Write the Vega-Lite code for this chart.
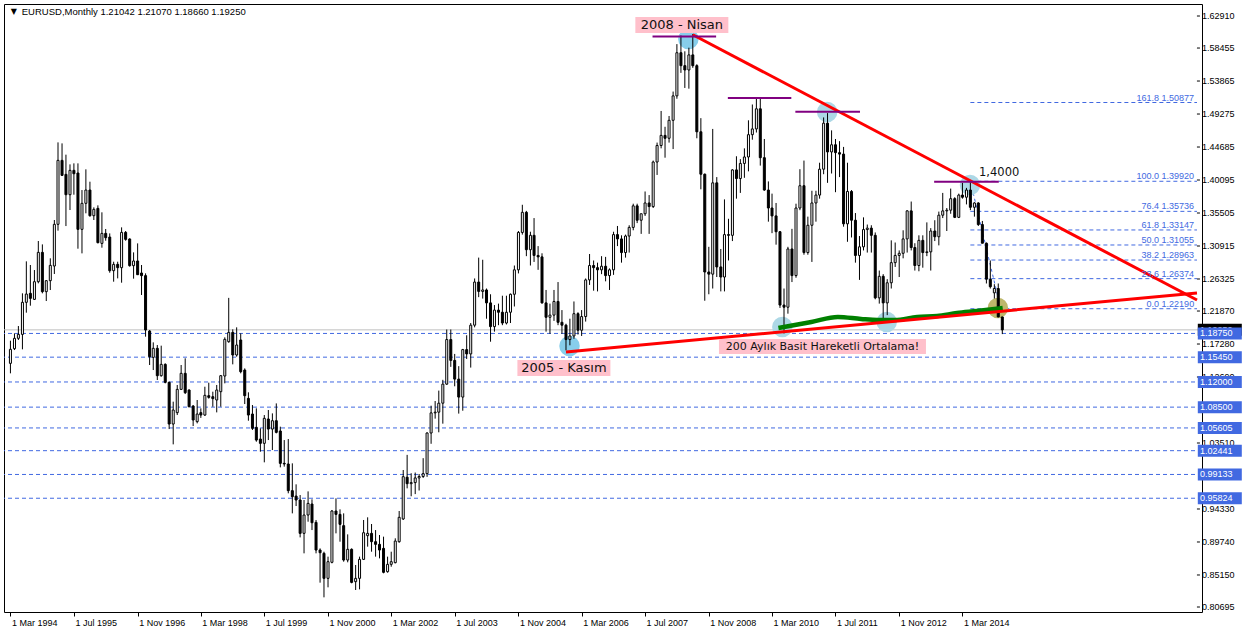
{
"$schema": "https://vega.github.io/schema/vega-lite/v6.json",
"width": 1198, "height": 608,
"autosize": {"type": "none"},
"padding": {"left": 4, "top": 4, "right": 45, "bottom": 20},
"background": "#FFFFFF",
"config": {"view": {"stroke": "#000000", "strokeWidth": 1}, "font": "Liberation Sans"},
"datasets": {
"hlines": [{"p":1.1875},{"p":1.1545},{"p":1.12},{"p":1.085},{"p":1.05605},{"p":1.02441},{"p":0.99133},{"p":0.95824}],
"ylabels": [{"p":1.6291},{"p":1.58455},{"p":1.53865},{"p":1.49275},{"p":1.44685},{"p":1.40095},{"p":1.35505},{"p":1.30915},{"p":1.26325},{"p":1.2187},{"p":1.1728},{"p":1.1269},{"p":1.0351},{"p":0.9433},{"p":0.8974},{"p":0.8515},{"p":0.80695}],
"bid": [{"p":1.1925}],
"fib": [{"p":1.50877,"t":"161.8 1.50877"},{"p":1.3992,"t":"100.0 1.39920"},{"p":1.35736,"t":"76.4 1.35736"},{"p":1.33147,"t":"61.8 1.33147"},{"p":1.31055,"t":"50.0 1.31055"},{"p":1.28963,"t":"38.2 1.28963"},{"p":1.26374,"t":"23.6 1.26374"},{"p":1.2219,"t":"0.0 1.22190"}],
"fibdiag": [{"d":"2014-05-01","p":1.3992},{"d":"2014-12-20","p":1.2219}],
"circles": [{"d":"2008-05-28","p":1.5971,"k":"sky"},{"d":"2005-11-28","p":1.17,"k":"sky"},{"d":"2011-04-28","p":1.4956,"k":"light"},{"d":"2010-05-19","p":1.1965,"k":"light"},{"d":"2012-07-28","p":1.2034,"k":"light"},{"d":"2014-04-28","p":1.394,"k":"light"},{"d":"2014-11-28","p":1.2229,"k":"khaki"}],
"sma": [{"d":"2010-04-19","p":1.1951},{"d":"2010-12-28","p":1.2034},{"d":"2011-07-19","p":1.2104},{"d":"2012-01-13","p":1.2076},{"d":"2012-05-19","p":1.2062},{"d":"2012-09-28","p":1.2062},{"d":"2013-03-19","p":1.2104},{"d":"2013-08-19","p":1.2118},{"d":"2014-01-19","p":1.2159},{"d":"2014-06-19","p":1.2187},{"d":"2015-01-04","p":1.2229}],
"trend": [{"g":"a","d":"2008-07-01","p":1.603},{"g":"a","d":"2019-02-03","p":1.234},{"g":"b","d":"2005-11-01","p":1.1617},{"g":"b","d":"2019-02-03","p":1.2439}],
"purple": [{"d1":"2007-08-27","d2":"2008-12-27","p":1.6005},{"d1":"2009-03-27","d2":"2010-07-27","p":1.515},{"d1":"2010-08-27","d2":"2012-01-05","p":1.496},{"d1":"2013-07-27","d2":"2014-12-05","p":1.3986}],
"tags": [{"d":"2008-04-08","p":1.6166,"t":"2008 - Nisan"},{"d":"2005-10-16","p":1.1394,"t":"2005 - Kasım"}],
"tagLong": [{"d":"2011-03-23","p":1.1693,"t":"200 Aylık Basit Hareketli Ortalama!"}],
"lvl": [{"d":"2014-12-08","p":1.4107,"t":"1,4000"}],
"head": [{"d":"1994-05-27","p":1.6347,"t":"EURUSD,Monthly  1.21042 1.21070 1.18660 1.19250"}],
"tri": [{"d":"1994-03-27","p":1.6347,"t":"▼"}],
"bars": [
{"d":"1994-03-01","o":1.1459,"h":1.1774,"l":1.132,"c":1.1654},
{"d":"1994-04-01","o":1.1663,"h":1.1876,"l":1.1644,"c":1.1807},
{"d":"1994-05-01","o":1.1807,"h":1.1978,"l":1.1784,"c":1.1862},
{"d":"1994-06-01","o":1.1862,"h":1.2433,"l":1.1654,"c":1.2308},
{"d":"1994-07-01","o":1.2308,"h":1.2878,"l":1.2164,"c":1.2423},
{"d":"1994-08-01","o":1.2433,"h":1.2827,"l":1.2261,"c":1.2363},
{"d":"1994-09-01","o":1.2349,"h":1.2757,"l":1.234,"c":1.2595},
{"d":"1994-10-01","o":1.2595,"h":1.3161,"l":1.2572,"c":1.3003},
{"d":"1994-11-01","o":1.3003,"h":1.3114,"l":1.2433,"c":1.2456},
{"d":"1994-12-01","o":1.2456,"h":1.2618,"l":1.2326,"c":1.2609},
{"d":"1995-01-01","o":1.2609,"h":1.292,"l":1.2479,"c":1.2822},
{"d":"1995-02-01","o":1.2813,"h":1.3453,"l":1.2702,"c":1.3393},
{"d":"1995-03-01","o":1.3393,"h":1.4533,"l":1.3305,"c":1.4283},
{"d":"1995-04-01","o":1.4283,"h":1.4519,"l":1.4065,"c":1.4074},
{"d":"1995-05-01","o":1.4088,"h":1.4362,"l":1.3369,"c":1.3805},
{"d":"1995-06-01","o":1.3805,"h":1.4227,"l":1.3592,"c":1.4144},
{"d":"1995-07-01","o":1.4144,"h":1.4241,"l":1.3805,"c":1.4097},
{"d":"1995-08-01","o":1.4107,"h":1.4241,"l":1.3054,"c":1.3323},
{"d":"1995-09-01","o":1.3323,"h":1.387,"l":1.2989,"c":1.3685},
{"d":"1995-10-01","o":1.3685,"h":1.4158,"l":1.3546,"c":1.387},
{"d":"1995-11-01","o":1.387,"h":1.3986,"l":1.3499,"c":1.3513},
{"d":"1995-12-01","o":1.3513,"h":1.3629,"l":1.3453,"c":1.3601},
{"d":"1996-01-01","o":1.3615,"h":1.3657,"l":1.3128,"c":1.3138},
{"d":"1996-02-01","o":1.3128,"h":1.356,"l":1.3068,"c":1.3267},
{"d":"1996-03-01","o":1.3267,"h":1.3328,"l":1.3165,"c":1.3207},
{"d":"1996-04-01","o":1.3216,"h":1.3267,"l":1.272,"c":1.2748},
{"d":"1996-05-01","o":1.2748,"h":1.2873,"l":1.2595,"c":1.2836},
{"d":"1996-06-01","o":1.2836,"h":1.2873,"l":1.2641,"c":1.279},
{"d":"1996-07-01","o":1.279,"h":1.3351,"l":1.2581,"c":1.3281},
{"d":"1996-08-01","o":1.3281,"h":1.33,"l":1.3165,"c":1.3184},
{"d":"1996-09-01","o":1.3189,"h":1.3198,"l":1.2804,"c":1.2818},
{"d":"1996-10-01","o":1.2818,"h":1.3003,"l":1.2637,"c":1.2883},
{"d":"1996-11-01","o":1.2883,"h":1.3128,"l":1.2688,"c":1.2692},
{"d":"1996-12-01","o":1.2716,"h":1.2827,"l":1.241,"c":1.2679},
{"d":"1997-01-01","o":1.2679,"h":1.2711,"l":1.183,"c":1.1923},
{"d":"1997-02-01","o":1.1909,"h":1.1923,"l":1.1436,"c":1.1552},
{"d":"1997-03-01","o":1.1542,"h":1.1751,"l":1.1366,"c":1.1668},
{"d":"1997-04-01","o":1.1668,"h":1.1714,"l":1.1227,"c":1.1287},
{"d":"1997-05-01","o":1.1287,"h":1.1705,"l":1.1274,"c":1.1445},
{"d":"1997-06-01","o":1.1445,"h":1.1459,"l":1.1181,"c":1.1195},
{"d":"1997-07-01","o":1.1195,"h":1.1204,"l":1.0545,"c":1.0615},
{"d":"1997-08-01","o":1.0615,"h":1.0926,"l":1.0332,"c":1.081},
{"d":"1997-09-01","o":1.0773,"h":1.1158,"l":1.074,"c":1.1097},
{"d":"1997-10-01","o":1.1097,"h":1.1436,"l":1.1088,"c":1.132},
{"d":"1997-11-01","o":1.132,"h":1.1529,"l":1.1032,"c":1.1051},
{"d":"1997-12-01","o":1.1088,"h":1.1097,"l":1.0847,"c":1.0856},
{"d":"1998-01-01","o":1.0865,"h":1.0879,"l":1.0587,"c":1.0671},
{"d":"1998-02-01","o":1.0648,"h":1.0949,"l":1.0624,"c":1.0754},
{"d":"1998-03-01","o":1.0773,"h":1.0833,"l":1.07,"c":1.074},
{"d":"1998-04-01","o":1.074,"h":1.1134,"l":1.0727,"c":1.1014},
{"d":"1998-05-01","o":1.1009,"h":1.119,"l":1.0968,"c":1.0986},
{"d":"1998-06-01","o":1.0995,"h":1.1065,"l":1.0856,"c":1.0968},
{"d":"1998-07-01","o":1.0949,"h":1.1158,"l":1.0777,"c":1.1088},
{"d":"1998-08-01","o":1.1065,"h":1.1297,"l":1.0856,"c":1.1287},
{"d":"1998-09-01","o":1.1283,"h":1.1821,"l":1.1181,"c":1.1793},
{"d":"1998-10-01","o":1.176,"h":1.237,"l":1.1746,"c":1.189},
{"d":"1998-11-01","o":1.189,"h":1.1932,"l":1.1445,"c":1.1575},
{"d":"1998-12-01","o":1.1575,"h":1.196,"l":1.1552,"c":1.1714},
{"d":"1999-01-01","o":1.1784,"h":1.1876,"l":1.132,"c":1.1343},
{"d":"1999-02-01","o":1.1366,"h":1.1389,"l":1.0893,"c":1.1009},
{"d":"1999-03-01","o":1.0972,"h":1.1056,"l":1.0661,"c":1.074},
{"d":"1999-04-01","o":1.0754,"h":1.0879,"l":1.0532,"c":1.0555},
{"d":"1999-05-01","o":1.0569,"h":1.0833,"l":1.0369,"c":1.0392},
{"d":"1999-06-01","o":1.0406,"h":1.0555,"l":1.023,"c":1.0346},
{"d":"1999-07-01","o":1.0346,"h":1.074,"l":1.0082,"c":1.0694},
{"d":"1999-08-01","o":1.0685,"h":1.081,"l":1.0392,"c":1.0545},
{"d":"1999-09-01","o":1.0545,"h":1.0763,"l":1.0253,"c":1.0661},
{"d":"1999-10-01","o":1.0661,"h":1.0902,"l":1.0485,"c":1.0499},
{"d":"1999-11-01","o":1.0518,"h":1.0578,"l":1.0012,"c":1.0068},
{"d":"1999-12-01","o":1.0068,"h":1.0392,"l":1.0022,"c":1.0059},
{"d":"2000-01-01","o":1.0059,"h":1.0406,"l":0.9651,"c":0.9688},
{"d":"2000-02-01","o":0.9688,"h":1.0068,"l":0.9372,"c":0.9604},
{"d":"2000-03-01","o":0.9613,"h":0.9776,"l":0.9474,"c":0.9558},
{"d":"2000-04-01","o":0.9558,"h":0.9627,"l":0.9038,"c":0.9094},
{"d":"2000-05-01","o":0.9094,"h":0.9558,"l":0.8816,"c":0.9349},
{"d":"2000-06-01","o":0.9349,"h":0.9678,"l":0.9256,"c":0.9511},
{"d":"2000-07-01","o":0.9502,"h":0.9567,"l":0.914,"c":0.9242},
{"d":"2000-08-01","o":0.9247,"h":0.928,"l":0.8816,"c":0.8862},
{"d":"2000-09-01","o":0.8862,"h":0.8885,"l":0.8408,"c":0.8825},
{"d":"2000-10-01","o":0.8816,"h":0.8839,"l":0.8204,"c":0.8468},
{"d":"2000-11-01","o":0.8468,"h":0.877,"l":0.8343,"c":0.87},
{"d":"2000-12-01","o":0.8691,"h":0.9419,"l":0.8677,"c":0.9405},
{"d":"2001-01-01","o":0.9405,"h":0.9581,"l":0.9094,"c":0.9358},
{"d":"2001-02-01","o":0.9358,"h":0.9428,"l":0.8978,"c":0.9219},
{"d":"2001-03-01","o":0.9201,"h":0.9372,"l":0.87,"c":0.8723},
{"d":"2001-04-01","o":0.8723,"h":0.908,"l":0.8691,"c":0.8872},
{"d":"2001-05-01","o":0.8872,"h":0.8885,"l":0.8399,"c":0.8412},
{"d":"2001-06-01","o":0.8422,"h":0.8654,"l":0.8306,"c":0.8468},
{"d":"2001-07-01","o":0.8468,"h":0.877,"l":0.8315,"c":0.8732},
{"d":"2001-08-01","o":0.8732,"h":0.928,"l":0.8723,"c":0.9103},
{"d":"2001-09-01","o":0.9062,"h":0.9317,"l":0.8909,"c":0.9094},
{"d":"2001-10-01","o":0.9094,"h":0.9224,"l":0.8839,"c":0.8978},
{"d":"2001-11-01","o":0.8978,"h":0.914,"l":0.877,"c":0.8941},
{"d":"2001-12-01","o":0.8941,"h":0.9071,"l":0.8746,"c":0.8862},
{"d":"2002-01-01","o":0.8885,"h":0.9048,"l":0.8538,"c":0.8552},
{"d":"2002-02-01","o":0.8561,"h":0.877,"l":0.8547,"c":0.8663},
{"d":"2002-03-01","o":0.8663,"h":0.8839,"l":0.863,"c":0.87},
{"d":"2002-04-01","o":0.8686,"h":0.9025,"l":0.8677,"c":0.8987},
{"d":"2002-05-01","o":0.8978,"h":0.9405,"l":0.8964,"c":0.9317},
{"d":"2002-06-01","o":0.9294,"h":0.9975,"l":0.928,"c":0.9882},
{"d":"2002-07-01","o":0.9875,"h":1.0186,"l":0.972,"c":0.9785},
{"d":"2002-08-01","o":0.9785,"h":0.993,"l":0.961,"c":0.98},
{"d":"2002-09-01","o":0.98,"h":0.994,"l":0.964,"c":0.9865},
{"d":"2002-10-01","o":0.9865,"h":0.992,"l":0.969,"c":0.9885},
{"d":"2002-11-01","o":0.9885,"h":1.014,"l":0.9865,"c":0.9925},
{"d":"2002-12-01","o":0.9925,"h":1.05,"l":0.988,"c":1.049},
{"d":"2003-01-01","o":1.049,"h":1.087,"l":1.034,"c":1.077},
{"d":"2003-02-01","o":1.077,"h":1.0935,"l":1.069,"c":1.078},
{"d":"2003-03-01","o":1.078,"h":1.108,"l":1.05,"c":1.0905},
{"d":"2003-04-01","o":1.0905,"h":1.123,"l":1.062,"c":1.117},
{"d":"2003-05-01","o":1.117,"h":1.193,"l":1.116,"c":1.179},
{"d":"2003-06-01","o":1.179,"h":1.193,"l":1.141,"c":1.15},
{"d":"2003-07-01","o":1.15,"h":1.159,"l":1.114,"c":1.124},
{"d":"2003-08-01","o":1.124,"h":1.142,"l":1.076,"c":1.099},
{"d":"2003-09-01","o":1.099,"h":1.166,"l":1.08,"c":1.165},
{"d":"2003-10-01","o":1.165,"h":1.185,"l":1.152,"c":1.159},
{"d":"2003-11-01","o":1.159,"h":1.202,"l":1.14,"c":1.199},
{"d":"2003-12-01","o":1.199,"h":1.264,"l":1.196,"c":1.259},
{"d":"2004-01-01","o":1.259,"h":1.293,"l":1.238,"c":1.246},
{"d":"2004-02-01","o":1.246,"h":1.29,"l":1.236,"c":1.248},
{"d":"2004-03-01","o":1.248,"h":1.25,"l":1.208,"c":1.23},
{"d":"2004-04-01","o":1.23,"h":1.242,"l":1.176,"c":1.197},
{"d":"2004-05-01","o":1.197,"h":1.227,"l":1.19,"c":1.22},
{"d":"2004-06-01","o":1.22,"h":1.229,"l":1.199,"c":1.217},
{"d":"2004-07-01","o":1.217,"h":1.24,"l":1.199,"c":1.202},
{"d":"2004-08-01","o":1.202,"h":1.24,"l":1.2,"c":1.217},
{"d":"2004-09-01","o":1.217,"h":1.243,"l":1.202,"c":1.242},
{"d":"2004-10-01","o":1.242,"h":1.282,"l":1.225,"c":1.276},
{"d":"2004-11-01","o":1.276,"h":1.33,"l":1.271,"c":1.328},
{"d":"2004-12-01","o":1.328,"h":1.3665,"l":1.325,"c":1.356},
{"d":"2005-01-01","o":1.356,"h":1.358,"l":1.295,"c":1.304},
{"d":"2005-02-01","o":1.304,"h":1.329,"l":1.282,"c":1.324},
{"d":"2005-03-01","o":1.324,"h":1.348,"l":1.287,"c":1.296},
{"d":"2005-04-01","o":1.296,"h":1.309,"l":1.276,"c":1.294},
{"d":"2005-05-01","o":1.294,"h":1.299,"l":1.229,"c":1.23},
{"d":"2005-06-01","o":1.23,"h":1.248,"l":1.19,"c":1.21},
{"d":"2005-07-01","o":1.21,"h":1.229,"l":1.187,"c":1.213},
{"d":"2005-08-01","o":1.213,"h":1.248,"l":1.205,"c":1.232},
{"d":"2005-09-01","o":1.232,"h":1.259,"l":1.199,"c":1.203},
{"d":"2005-10-01","o":1.203,"h":1.22,"l":1.187,"c":1.199},
{"d":"2005-11-01","o":1.199,"h":1.201,"l":1.164,"c":1.179},
{"d":"2005-12-01","o":1.179,"h":1.208,"l":1.171,"c":1.184},
{"d":"2006-01-01","o":1.184,"h":1.232,"l":1.18,"c":1.215},
{"d":"2006-02-01","o":1.215,"h":1.217,"l":1.186,"c":1.192},
{"d":"2006-03-01","o":1.192,"h":1.22,"l":1.184,"c":1.211},
{"d":"2006-04-01","o":1.211,"h":1.264,"l":1.204,"c":1.262},
{"d":"2006-05-01","o":1.262,"h":1.298,"l":1.255,"c":1.282},
{"d":"2006-06-01","o":1.282,"h":1.289,"l":1.247,"c":1.279},
{"d":"2006-07-01","o":1.279,"h":1.286,"l":1.246,"c":1.276},
{"d":"2006-08-01","o":1.276,"h":1.295,"l":1.27,"c":1.281},
{"d":"2006-09-01","o":1.281,"h":1.294,"l":1.26,"c":1.268},
{"d":"2006-10-01","o":1.268,"h":1.278,"l":1.248,"c":1.276},
{"d":"2006-11-01","o":1.276,"h":1.329,"l":1.269,"c":1.325},
{"d":"2006-12-01","o":1.325,"h":1.337,"l":1.309,"c":1.319},
{"d":"2007-01-01","o":1.319,"h":1.324,"l":1.286,"c":1.3},
{"d":"2007-02-01","o":1.3,"h":1.325,"l":1.293,"c":1.323},
{"d":"2007-03-01","o":1.323,"h":1.338,"l":1.3,"c":1.335},
{"d":"2007-04-01","o":1.335,"h":1.368,"l":1.331,"c":1.365},
{"d":"2007-05-01","o":1.365,"h":1.368,"l":1.341,"c":1.345},
{"d":"2007-06-01","o":1.345,"h":1.354,"l":1.326,"c":1.354},
{"d":"2007-07-01","o":1.354,"h":1.385,"l":1.351,"c":1.369},
{"d":"2007-08-01","o":1.369,"h":1.38,"l":1.326,"c":1.364},
{"d":"2007-09-01","o":1.364,"h":1.428,"l":1.362,"c":1.426},
{"d":"2007-10-01","o":1.426,"h":1.453,"l":1.408,"c":1.449},
{"d":"2007-11-01","o":1.449,"h":1.497,"l":1.445,"c":1.463},
{"d":"2007-12-01","o":1.463,"h":1.475,"l":1.432,"c":1.459},
{"d":"2008-01-01","o":1.459,"h":1.49,"l":1.453,"c":1.484},
{"d":"2008-02-01","o":1.484,"h":1.524,"l":1.444,"c":1.518},
{"d":"2008-03-01","o":1.518,"h":1.59,"l":1.514,"c":1.578},
{"d":"2008-04-01","o":1.578,"h":1.602,"l":1.55,"c":1.56},
{"d":"2008-05-01","o":1.56,"h":1.58,"l":1.529,"c":1.554},
{"d":"2008-06-01","o":1.554,"h":1.585,"l":1.528,"c":1.575},
{"d":"2008-07-01","o":1.575,"h":1.604,"l":1.557,"c":1.56},
{"d":"2008-08-01","o":1.56,"h":1.562,"l":1.459,"c":1.468},
{"d":"2008-09-01","o":1.468,"h":1.487,"l":1.388,"c":1.409},
{"d":"2008-10-01","o":1.409,"h":1.41,"l":1.233,"c":1.273},
{"d":"2008-11-01","o":1.273,"h":1.308,"l":1.242,"c":1.27},
{"d":"2008-12-01","o":1.27,"h":1.472,"l":1.25,"c":1.397},
{"d":"2009-01-01","o":1.397,"h":1.405,"l":1.266,"c":1.28},
{"d":"2009-02-01","o":1.28,"h":1.305,"l":1.246,"c":1.266},
{"d":"2009-03-01","o":1.266,"h":1.374,"l":1.246,"c":1.325},
{"d":"2009-04-01","o":1.325,"h":1.347,"l":1.289,"c":1.324},
{"d":"2009-05-01","o":1.324,"h":1.416,"l":1.316,"c":1.415},
{"d":"2009-06-01","o":1.415,"h":1.434,"l":1.375,"c":1.403},
{"d":"2009-07-01","o":1.403,"h":1.43,"l":1.383,"c":1.424},
{"d":"2009-08-01","o":1.424,"h":1.445,"l":1.404,"c":1.433},
{"d":"2009-09-01","o":1.433,"h":1.484,"l":1.413,"c":1.464},
{"d":"2009-10-01","o":1.464,"h":1.506,"l":1.457,"c":1.472},
{"d":"2009-11-01","o":1.472,"h":1.514,"l":1.467,"c":1.5},
{"d":"2009-12-01","o":1.5,"h":1.515,"l":1.421,"c":1.432},
{"d":"2010-01-01","o":1.432,"h":1.458,"l":1.386,"c":1.387},
{"d":"2010-02-01","o":1.387,"h":1.399,"l":1.343,"c":1.362},
{"d":"2010-03-01","o":1.362,"h":1.382,"l":1.327,"c":1.351},
{"d":"2010-04-01","o":1.351,"h":1.369,"l":1.311,"c":1.329},
{"d":"2010-05-01","o":1.329,"h":1.33,"l":1.223,"c":1.227},
{"d":"2010-06-01","o":1.227,"h":1.25,"l":1.1875,"c":1.224},
{"d":"2010-07-01","o":1.224,"h":1.308,"l":1.215,"c":1.305},
{"d":"2010-08-01","o":1.305,"h":1.333,"l":1.259,"c":1.268},
{"d":"2010-09-01","o":1.268,"h":1.368,"l":1.265,"c":1.362},
{"d":"2010-10-01","o":1.362,"h":1.416,"l":1.359,"c":1.393},
{"d":"2010-11-01","o":1.393,"h":1.428,"l":1.297,"c":1.3},
{"d":"2010-12-01","o":1.3,"h":1.35,"l":1.297,"c":1.338},
{"d":"2011-01-01","o":1.338,"h":1.386,"l":1.287,"c":1.369},
{"d":"2011-02-01","o":1.369,"h":1.386,"l":1.343,"c":1.38},
{"d":"2011-03-01","o":1.38,"h":1.425,"l":1.375,"c":1.416},
{"d":"2011-04-01","o":1.416,"h":1.488,"l":1.409,"c":1.48},
{"d":"2011-05-01","o":1.48,"h":1.494,"l":1.397,"c":1.44},
{"d":"2011-06-01","o":1.44,"h":1.47,"l":1.41,"c":1.45},
{"d":"2011-07-01","o":1.45,"h":1.458,"l":1.384,"c":1.439},
{"d":"2011-08-01","o":1.439,"h":1.455,"l":1.405,"c":1.437},
{"d":"2011-09-01","o":1.437,"h":1.447,"l":1.336,"c":1.34},
{"d":"2011-10-01","o":1.34,"h":1.425,"l":1.315,"c":1.385},
{"d":"2011-11-01","o":1.385,"h":1.387,"l":1.321,"c":1.345},
{"d":"2011-12-01","o":1.345,"h":1.355,"l":1.286,"c":1.296},
{"d":"2012-01-01","o":1.296,"h":1.323,"l":1.262,"c":1.308},
{"d":"2012-02-01","o":1.308,"h":1.349,"l":1.303,"c":1.332},
{"d":"2012-03-01","o":1.332,"h":1.339,"l":1.3,"c":1.334},
{"d":"2012-04-01","o":1.334,"h":1.338,"l":1.3,"c":1.324},
{"d":"2012-05-01","o":1.324,"h":1.328,"l":1.235,"c":1.237},
{"d":"2012-06-01","o":1.237,"h":1.275,"l":1.229,"c":1.267},
{"d":"2012-07-01","o":1.267,"h":1.27,"l":1.204,"c":1.23},
{"d":"2012-08-01","o":1.23,"h":1.263,"l":1.213,"c":1.258},
{"d":"2012-09-01","o":1.258,"h":1.317,"l":1.25,"c":1.286},
{"d":"2012-10-01","o":1.286,"h":1.314,"l":1.28,"c":1.296},
{"d":"2012-11-01","o":1.296,"h":1.303,"l":1.266,"c":1.299},
{"d":"2012-12-01","o":1.299,"h":1.331,"l":1.292,"c":1.319},
{"d":"2013-01-01","o":1.319,"h":1.359,"l":1.3,"c":1.358},
{"d":"2013-02-01","o":1.358,"h":1.371,"l":1.303,"c":1.307},
{"d":"2013-03-01","o":1.307,"h":1.313,"l":1.275,"c":1.282},
{"d":"2013-04-01","o":1.282,"h":1.324,"l":1.274,"c":1.317},
{"d":"2013-05-01","o":1.317,"h":1.324,"l":1.279,"c":1.3},
{"d":"2013-06-01","o":1.3,"h":1.342,"l":1.295,"c":1.301},
{"d":"2013-07-01","o":1.301,"h":1.334,"l":1.275,"c":1.33},
{"d":"2013-08-01","o":1.33,"h":1.345,"l":1.316,"c":1.322},
{"d":"2013-09-01","o":1.322,"h":1.357,"l":1.31,"c":1.352},
{"d":"2013-10-01","o":1.352,"h":1.383,"l":1.348,"c":1.358},
{"d":"2013-11-01","o":1.358,"h":1.362,"l":1.33,"c":1.359},
{"d":"2013-12-01","o":1.359,"h":1.389,"l":1.354,"c":1.375},
{"d":"2014-01-01","o":1.375,"h":1.377,"l":1.348,"c":1.349},
{"d":"2014-02-01","o":1.349,"h":1.382,"l":1.348,"c":1.38},
{"d":"2014-03-01","o":1.38,"h":1.397,"l":1.375,"c":1.377},
{"d":"2014-04-01","o":1.377,"h":1.39,"l":1.367,"c":1.387},
{"d":"2014-05-01","o":1.387,"h":1.399,"l":1.359,"c":1.363},
{"d":"2014-06-01","o":1.363,"h":1.37,"l":1.35,"c":1.369},
{"d":"2014-07-01","o":1.369,"h":1.37,"l":1.337,"c":1.339},
{"d":"2014-08-01","o":1.339,"h":1.344,"l":1.313,"c":1.313},
{"d":"2014-09-01","o":1.313,"h":1.314,"l":1.257,"c":1.263},
{"d":"2014-10-01","o":1.263,"h":1.289,"l":1.25,"c":1.2525},
{"d":"2014-11-01","o":1.244,"h":1.256,"l":1.236,"c":1.25},
{"d":"2014-12-01","o":1.25,"h":1.257,"l":1.21,"c":1.2105},
{"d":"2015-01-01","o":1.21042,"h":1.2107,"l":1.1866,"c":1.1925}
]
},
"layer": [
{"data": {"name": "hlines"}, "mark": {"type": "rule", "color": "#4169E1", "strokeDash": [4, 3], "strokeWidth": 1},
 "encoding": {"y": {"field": "p", "type": "quantitative",
   "scale": {"domain": [0.8, 1.6458], "nice": false, "zero": false},
   "axis": {"orient": "right", "labels": false, "ticks": false, "domain": false, "grid": false, "title": null}}}},
{"data": {"name": "bid"}, "mark": {"type": "rule", "color": "#C0C0C0", "strokeWidth": 1},
 "encoding": {"y": {"field": "p", "type": "quantitative"}}},
{"data": {"name": "fib"}, "mark": {"type": "rule", "color": "#4169E1", "strokeDash": [4, 3], "strokeWidth": 1},
 "encoding": {"x": {"datum": {"year": 2014, "month": 5, "date": 1, "utc": true}, "type": "temporal"},
   "x2": {"datum": {"year": 2019, "month": 2, "date": 3, "utc": true}},
   "y": {"field": "p", "type": "quantitative"}}},
{"data": {"name": "fibdiag"}, "mark": {"type": "line", "color": "#4169E1", "strokeDash": [3, 3], "strokeWidth": 1},
 "encoding": {"x": {"field": "d", "type": "temporal"}, "y": {"field": "p", "type": "quantitative"}}},
{"data": {"name": "circles"}, "mark": {"type": "point", "shape": "circle", "filled": true, "size": 420, "opacity": 1},
 "encoding": {"x": {"field": "d", "type": "temporal"}, "y": {"field": "p", "type": "quantitative"},
   "color": {"field": "k", "type": "nominal", "scale": {"domain": ["sky", "light", "khaki"], "range": ["#87CEEB", "#ADD8E6", "#BDB76B"]}, "legend": null}}},
{"data": {"name": "bars"}, "mark": {"type": "rule", "color": "#000000", "strokeWidth": 1},
 "encoding": {"x": {"field": "d", "type": "temporal",
   "scale": {"type": "utc", "domain": [{"year": 1994, "month": 2, "date": 18, "utc": true}, {"year": 2019, "month": 2, "date": 3, "utc": true}], "nice": false},
   "axis": {"values": [
     {"year":1994,"month":3,"date":1,"utc":true},{"year":1995,"month":7,"date":1,"utc":true},{"year":1996,"month":11,"date":1,"utc":true},
     {"year":1998,"month":3,"date":1,"utc":true},{"year":1999,"month":7,"date":1,"utc":true},{"year":2000,"month":11,"date":1,"utc":true},
     {"year":2002,"month":3,"date":1,"utc":true},{"year":2003,"month":7,"date":1,"utc":true},{"year":2004,"month":11,"date":1,"utc":true},
     {"year":2006,"month":3,"date":1,"utc":true},{"year":2007,"month":7,"date":1,"utc":true},{"year":2008,"month":11,"date":1,"utc":true},
     {"year":2010,"month":3,"date":1,"utc":true},{"year":2011,"month":7,"date":1,"utc":true},{"year":2012,"month":11,"date":1,"utc":true},
     {"year":2014,"month":3,"date":1,"utc":true}],
     "format": "%-d %b %Y", "labelAlign": "left", "labelOffset": 1, "labelBaseline": "top", "labelPadding": 2, "tickSize": 4, "tickColor": "#000000",
     "domain": false, "grid": false, "labelFont": "Liberation Sans", "labelFontSize": 9, "labelColor": "#000000", "labelFlush": false, "labelOverlap": false, "title": null}},
   "y": {"field": "l", "type": "quantitative"}, "y2": {"field": "h"}}},
{"data": {"name": "bars"}, "mark": {"type": "bar", "size": 2, "stroke": "#000000", "strokeWidth": 1},
 "encoding": {"x": {"field": "d", "type": "temporal"}, "y": {"field": "o", "type": "quantitative"}, "y2": {"field": "c"},
   "fill": {"condition": {"test": "datum.c >= datum.o", "value": "#FFFFFF"}, "value": "#000000"}}},
{"data": {"name": "sma"}, "mark": {"type": "line", "color": "#008000", "strokeWidth": 4.5, "interpolate": "monotone", "clip": true},
 "encoding": {"x": {"field": "d", "type": "temporal"}, "y": {"field": "p", "type": "quantitative"}}},
{"data": {"name": "trend"}, "mark": {"type": "line", "color": "#FF0000", "strokeWidth": 3, "clip": true},
 "encoding": {"x": {"field": "d", "type": "temporal"}, "y": {"field": "p", "type": "quantitative"}, "detail": {"field": "g"}}},
{"data": {"name": "purple"}, "mark": {"type": "rule", "color": "#800080", "strokeWidth": 2},
 "encoding": {"x": {"field": "d1", "type": "temporal"}, "x2": {"field": "d2"}, "y": {"field": "p", "type": "quantitative"}}},
{"data": {"name": "tags"}, "mark": {"type": "tick", "orient": "horizontal", "size": 93, "thickness": 16, "color": "#FFC0CB", "opacity": 1},
 "encoding": {"x": {"field": "d", "type": "temporal"}, "y": {"field": "p", "type": "quantitative"}}},
{"data": {"name": "tags"}, "mark": {"type": "text", "font": "DejaVu Sans", "fontSize": 13, "color": "#111111", "align": "center", "baseline": "middle"},
 "encoding": {"x": {"field": "d", "type": "temporal"}, "y": {"field": "p", "type": "quantitative"}, "text": {"field": "t"}}},
{"data": {"name": "tagLong"}, "mark": {"type": "tick", "orient": "horizontal", "size": 207, "thickness": 15, "color": "#FFC0CB", "opacity": 1},
 "encoding": {"x": {"field": "d", "type": "temporal"}, "y": {"field": "p", "type": "quantitative"}}},
{"data": {"name": "tagLong"}, "mark": {"type": "text", "font": "DejaVu Sans", "fontSize": 11, "color": "#111111", "align": "center", "baseline": "middle"},
 "encoding": {"x": {"field": "d", "type": "temporal"}, "y": {"field": "p", "type": "quantitative"}, "text": {"field": "t"}}},
{"data": {"name": "lvl"}, "mark": {"type": "text", "font": "DejaVu Sans", "fontSize": 11.5, "color": "#111111", "align": "center", "baseline": "middle"},
 "encoding": {"x": {"field": "d", "type": "temporal"}, "y": {"field": "p", "type": "quantitative"}, "text": {"field": "t"}}},
{"data": {"name": "fib"}, "mark": {"type": "text", "font": "Liberation Sans", "fontSize": 9, "color": "#4169E1", "align": "right", "baseline": "alphabetic", "dy": -2},
 "encoding": {"x": {"datum": {"year": 2019, "month": 1, "date": 12, "utc": true}, "type": "temporal"}, "y": {"field": "p", "type": "quantitative"}, "text": {"field": "t"}}},
{"data": {"name": "head"}, "mark": {"type": "text", "font": "Liberation Sans", "fontSize": 9.5, "color": "#000000", "align": "left", "baseline": "middle"},
 "encoding": {"x": {"field": "d", "type": "temporal"}, "y": {"field": "p", "type": "quantitative"}, "text": {"field": "t"}}},
{"data": {"name": "tri"}, "mark": {"type": "text", "font": "DejaVu Sans", "fontSize": 8, "color": "#000000", "align": "center", "baseline": "middle"},
 "encoding": {"x": {"field": "d", "type": "temporal"}, "y": {"field": "p", "type": "quantitative"}, "text": {"field": "t"}}},
{"data": {"name": "ylabels"}, "mark": {"type": "tick", "orient": "horizontal", "size": 3, "thickness": 1, "color": "#000000", "opacity": 1},
 "encoding": {"x": {"datum": {"year": 2019, "month": 2, "date": 14, "utc": true}, "type": "temporal"}, "y": {"field": "p", "type": "quantitative"}}},
{"data": {"name": "ylabels"}, "mark": {"type": "text", "font": "Liberation Sans", "fontSize": 9, "color": "#000000", "align": "left", "baseline": "middle"},
 "encoding": {"x": {"datum": {"year": 2019, "month": 3, "date": 13, "utc": true}, "type": "temporal"}, "y": {"field": "p", "type": "quantitative"}, "text": {"field": "p", "type": "quantitative", "format": ".5f"}}},
{"data": {"name": "bid"}, "mark": {"type": "tick", "orient": "horizontal", "size": 44, "thickness": 12, "color": "#000000", "opacity": 1},
 "encoding": {"x": {"datum": {"year": 2019, "month": 7, "date": 28, "utc": true}, "type": "temporal"}, "y": {"field": "p", "type": "quantitative"}}},
{"data": {"name": "bid"}, "mark": {"type": "text", "font": "Liberation Sans", "fontSize": 9, "color": "#FFFFFF", "align": "left", "baseline": "middle"},
 "encoding": {"x": {"datum": {"year": 2019, "month": 2, "date": 26, "utc": true}, "type": "temporal"}, "y": {"field": "p", "type": "quantitative"}, "text": {"field": "p", "type": "quantitative", "format": ".5f"}}},
{"data": {"name": "hlines"}, "mark": {"type": "tick", "orient": "horizontal", "size": 44, "thickness": 12, "color": "#4169E1", "opacity": 1},
 "encoding": {"x": {"datum": {"year": 2019, "month": 7, "date": 28, "utc": true}, "type": "temporal"}, "y": {"field": "p", "type": "quantitative"}}},
{"data": {"name": "hlines"}, "mark": {"type": "text", "font": "Liberation Sans", "fontSize": 9, "color": "#FFFFFF", "align": "left", "baseline": "middle"},
 "encoding": {"x": {"datum": {"year": 2019, "month": 2, "date": 26, "utc": true}, "type": "temporal"}, "y": {"field": "p", "type": "quantitative"}, "text": {"field": "p", "type": "quantitative", "format": ".5f"}}}
]
}
